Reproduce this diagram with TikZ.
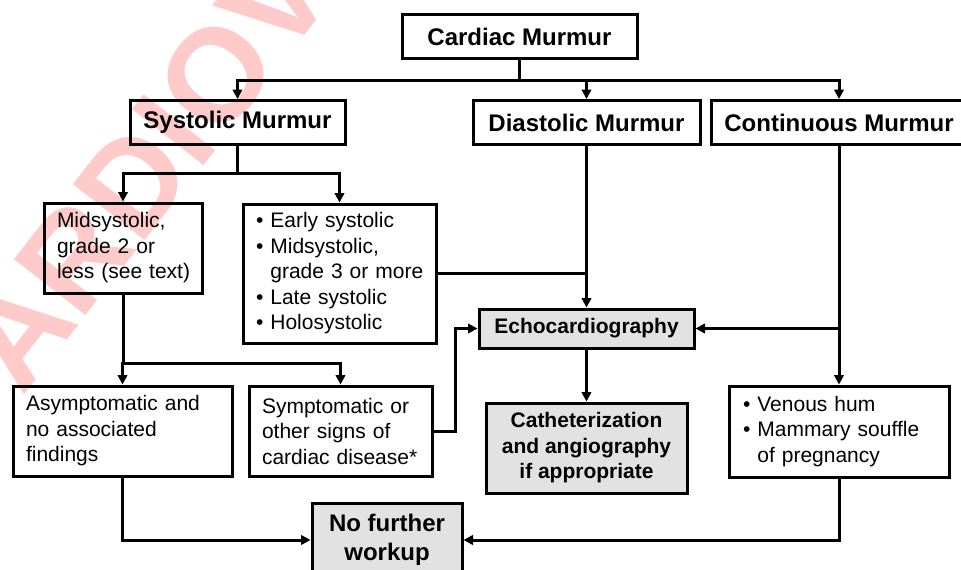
\documentclass[tikz,border=0pt]{standalone}
\usepackage{fontspec}
\setmainfont{Liberation Sans}
\usetikzlibrary{arrows.meta}
\definecolor{wm}{RGB}{255,202,202}
\definecolor{boxgray}{RGB}{226,226,226}
\begin{document}
\begin{tikzpicture}[x=1pt,y=-1pt,
  ln/.style={line width=3pt},
  arr/.style={ln,-{Triangle[length=9.5pt,width=9.5pt]}},
  box/.style={draw,line width=3pt,rectangle,inner sep=0pt,font=\fontsize{21}{25.5}\selectfont},
  titlebox/.style={box,font=\bfseries\fontsize{24}{28}\selectfont,minimum height=44pt},
  graybox/.style={box,fill=boxgray,font=\bfseries\fontsize{21}{25.5}\selectfont,align=center},
  lbox/.style={box,align=left,inner xsep=13pt}
]
\useasboundingbox (0,0) rectangle (961,570);
\clip (0,0) rectangle (961,570);
\fill[white] (0,0) rectangle (961,570);

% watermark
\node[text=wm, font=\bfseries\fontsize{132}{132}\selectfont, rotate=52, anchor=base west, inner sep=0pt] (wmark) at (22,398) {ARDIOV};

% level 0
\node[titlebox, minimum width=235pt] (cardiac) at (519.5,36.5) {Cardiac Murmur};
% level 1
\node[titlebox, minimum width=215pt] (systolic) at (237.5,122.5) {Systolic Murmur};
\node[titlebox, minimum width=227pt] (diastolic) at (586.5,122.5) {Diastolic Murmur};
\node[titlebox, minimum width=256pt] (continuous) at (839,122.5) {Continuous Murmur};
% level 2
\node[lbox, text width=132pt, minimum height=90pt] (midsys) at (123,248)
  {Midsystolic,\\grade 2 or\\\mbox{less (see text)}};
\node[lbox, text width=167pt, minimum height=139pt] (early) at (339.5,273.5)
  {\textbullet\ Early systolic\\\textbullet\ Midsystolic,\\\phantom{\textbullet\ }\mbox{grade 3 or more}\\\textbullet\ Late systolic\\\textbullet\ Holosystolic};
\node[graybox, minimum width=215pt, minimum height=39pt] (echo) at (586.5,328.5) {Echocardiography};
% level 3
\node[lbox, text width=193pt, minimum height=90pt] (asym) at (122.5,431)
  {\mbox{Asymptomatic and}\\no associated\\findings};
\node[lbox, text width=157pt, minimum height=90pt] (symp) at (340.5,431)
  {Symptomatic or\\other signs of\\\mbox{cardiac disease*}};
\node[graybox, minimum width=201pt, minimum height=90pt] (cath) at (586.5,448)
  {Catheterization\\and angiography\\if appropriate};
\node[lbox, inner xsep=14pt, text width=192pt, minimum height=91pt] (venous) at (839,431.5)
  {\textbullet\ Venous hum\\\textbullet\ \mbox{Mammary souffle}\\\phantom{\textbullet\ }of pregnancy};
% level 4
\node[graybox, font=\bfseries\fontsize{24}{29}\selectfont, minimum width=150pt, minimum height=74pt] (nofurther) at (387,540)
  {No further\\workup};

% connectors
\coordinate (tbar) at (519.5,80);
\coordinate (sbar) at (237.5,173);
\coordinate (mbar) at (123,363);
\coordinate (skink) at (455,0);

\draw[ln] (cardiac.south) -- (tbar);
\draw[arr] (tbar) -| (systolic.north);
\draw[arr] (tbar) -| (diastolic.north);
\draw[arr] (tbar) -| (continuous.north);

\draw[ln] (systolic.south) -- (sbar);
\draw[arr] (sbar) -| (midsys.north);
\draw[arr] (sbar) -| (early.north);

\draw[ln] (midsys.south) -- (mbar);
\draw[arr] (mbar) -| (asym.north);
\draw[arr] (mbar) -| (symp.north);

\draw[arr] (diastolic.south) -- (echo.north);
\draw[ln] (early.east) -- (early.east -| echo.north);
\draw[arr] (continuous.south) -- (venous.north);
\draw[arr] (continuous.south |- echo.east) -- (echo.east);
\draw[arr] (symp.east) -- (symp.east -| skink) -- (skink |- echo.west) -- (echo.west);
\draw[arr] (echo.south) -- (cath.north);

\draw[arr] (asym.south) |- (nofurther.west);
\draw[arr] (venous.south) |- (nofurther.east);
\end{tikzpicture}
\end{document}
